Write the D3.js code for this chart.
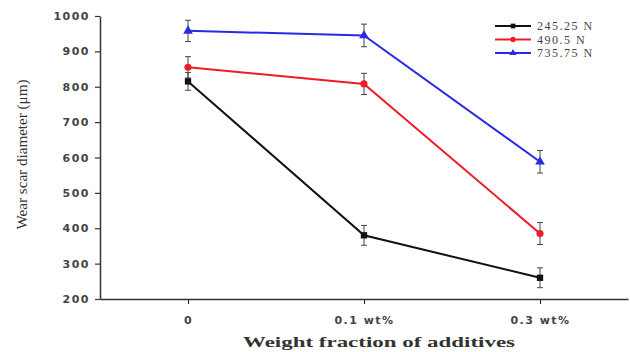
<!DOCTYPE html>
<html>
<head>
<meta charset="utf-8">
<script src="https://cdn.jsdelivr.net/npm/d3@7"></script>
<style>
  body { margin: 0; background: #fff; }
  svg { display: block; }
</style>
</head>
<body>
<div class="content"></div>
<script>
// chart data
const categories = ['0', '0.1 wt%', '0.3 wt%'];
const seriesNames = ['245.25 N', '490.5 N', '735.75 N'];
const load245 = [815, 380, 260];
const load490 = [855, 808, 385];
const load735 = [958, 945, 588];
const err245 = [25, 28, 28];
const err490 = [30, 30, 31];
const err735 = [30, 32, 32];
const yTicks = [200, 300, 400, 500, 600, 700, 800, 900, 1000];

function main() {
  const svgW = 630, svgH = 352;
  const svg = d3.select('.content').append('svg')
    .attr('width', svgW)
    .attr('height', svgH);

  const colors = ['#111111', '#ee1c24', '#2a2ae6'];
  const values = [load245, load490, load735];
  const errors = [err245, err490, err735];

  // scales
  const x = d3.scaleLinear().domain([-0.5, 2.5]).range([100, 628]);
  const y = d3.scaleLinear().domain([200, 1000]).range([299, 16]);

  // y axis (major + minor ticks)
  const yAxis = svg.append('g').attr('transform', 'translate(100,0)');
  yAxis.call(d3.axisLeft(y).tickValues(d3.range(250, 1000, 100)).tickSize(3).tickFormat(''));
  yAxis.call(d3.axisLeft(y).tickValues(yTicks).tickSize(5).tickSizeOuter(0).tickFormat(d3.format('d')));
  yAxis.selectAll('.domain').attr('stroke', '#333').attr('stroke-width', 1.5);
  yAxis.selectAll('line').attr('stroke', '#333').attr('stroke-width', 1.2);
  yAxis.selectAll('text')
    .attr('font-family', 'DejaVu Sans, sans-serif')
    .attr('font-weight', 'bold')
    .attr('font-size', 11)
    .attr('letter-spacing', 1.5)
    .attr('fill', '#444')
    .attr('dx', '-2');

  // x axis
  const xAxis = svg.append('g').attr('transform', 'translate(0,299)');
  xAxis.call(d3.axisBottom(x).tickValues([0.5, 1.5]).tickSize(3).tickSizeOuter(0).tickFormat(''));
  xAxis.call(d3.axisBottom(x).tickValues([0, 1, 2]).tickSize(5).tickSizeOuter(0)
    .tickFormat((d) => categories[d]));
  xAxis.selectAll('.domain').attr('stroke', '#333').attr('stroke-width', 1.5);
  xAxis.selectAll('line').attr('stroke', '#333').attr('stroke-width', 1.2);
  xAxis.selectAll('text')
    .attr('font-family', 'DejaVu Sans, sans-serif')
    .attr('font-weight', 'bold')
    .attr('font-size', 11)
    .attr('letter-spacing', 1.5)
    .attr('fill', '#444')
    .attr('dy', '1.5em');

  // axis titles
  svg.append('text')
    .attr('transform', 'translate(27,' + ((16 + 299) / 2 - 3) + ') rotate(-90)')
    .attr('text-anchor', 'middle')
    .attr('font-family', 'Liberation Serif, serif')
    .attr('font-size', 14)
    .attr('textLength', 150)
    .attr('lengthAdjust', 'spacingAndGlyphs')
    .attr('fill', '#333')
    .text('Wear scar diameter (μm)');
  svg.append('text')
    .attr('x', 379)
    .attr('y', 347)
    .attr('text-anchor', 'middle')
    .attr('font-family', 'Liberation Serif, serif')
    .attr('font-weight', 'bold')
    .attr('font-size', 15)
    .attr('textLength', 272)
    .attr('lengthAdjust', 'spacingAndGlyphs')
    .attr('fill', '#333')
    .text('Weight fraction of additives');

  const line = d3.line()
    .x((d, i) => x(i))
    .y((d) => y(d));

  // error bars
  values.forEach((vals, s) => {
    const g = svg.append('g').attr('stroke', '#444').attr('stroke-width', 1);
    vals.forEach((v, i) => {
      const e = errors[s][i];
      g.append('line').attr('x1', x(i)).attr('x2', x(i)).attr('y1', y(v + e)).attr('y2', y(v - e));
      g.append('line').attr('x1', x(i) - 3).attr('x2', x(i) + 3).attr('y1', y(v + e)).attr('y2', y(v + e));
      g.append('line').attr('x1', x(i) - 3).attr('x2', x(i) + 3).attr('y1', y(v - e)).attr('y2', y(v - e));
    });
  });

  // lines + markers
  const symbols = [d3.symbolSquare, d3.symbolCircle, d3.symbolTriangle];
  values.forEach((vals, s) => {
    svg.append('path').datum(vals)
      .attr('d', line)
      .attr('fill', 'none')
      .attr('stroke', colors[s])
      .attr('stroke-width', 2);
    svg.selectAll('.m' + s).data(vals).enter().append('path')
      .attr('transform', (d, i) => 'translate(' + x(i) + ',' + y(d) + ')')
      .attr('d', d3.symbol().type(symbols[s]).size(40))
      .attr('fill', colors[s]);
  });

  // legend
  const legend = svg.append('g').attr('transform', 'translate(495,26)');
  seriesNames.forEach((name, s) => {
    const row = legend.append('g').attr('transform', 'translate(0,' + (s * 13.5) + ')');
    row.append('line').attr('x1', 0).attr('x2', 36).attr('stroke', colors[s]).attr('stroke-width', 2);
    row.append('path').attr('transform', 'translate(18,0)')
      .attr('d', d3.symbol().type(symbols[s]).size(22))
      .attr('fill', colors[s]);
    row.append('text')
      .attr('x', 42).attr('y', 4)
      .attr('font-family', 'Liberation Serif, serif')
      .attr('font-size', 12)
      .attr('letter-spacing', 1.5)
      .attr('fill', '#444')
      .text(name);
  });
}
main();
</script>
</body>
</html>
